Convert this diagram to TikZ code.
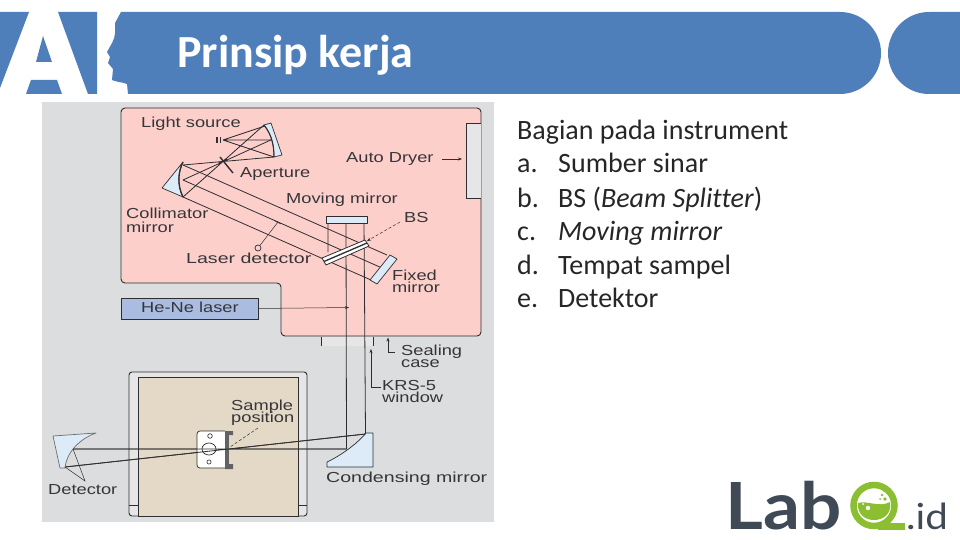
\documentclass[tikz,border=0pt]{standalone}
\usepackage{fontspec}
\setmainfont{Carlito}[Ligatures=NoCommon]
\newfontfamily\lab[FakeStretch=1.26]{Liberation Sans}
\newfontfamily\labw[FakeStretch=1.35]{Liberation Sans}
\newfontfamily\logo[FakeStretch=1.12]{Lato}
\newcommand\fs[1]{\fontsize{#1}{#1}\selectfont}
\definecolor{hdr}{HTML}{4F7FBA}
\definecolor{imgbg}{HTML}{DCDDDF}
\definecolor{pinkbox}{HTML}{FCCFCB}
\definecolor{ink}{HTML}{2E2E30}
\definecolor{labelc}{HTML}{36363A}
\definecolor{glass}{HTML}{DCEBF7}
\definecolor{tan}{HTML}{E4D9C7}
\definecolor{panel}{HTML}{E6E6E6}
\definecolor{laser}{HTML}{AABCE0}
\definecolor{logod}{HTML}{3F4A56}
\definecolor{logog}{HTML}{8CBE32}
\definecolor{bodyt}{HTML}{262626}
\usetikzlibrary{arrows.meta}
\tikzset{
  lbl/.style={anchor=base west,inner sep=0pt,text=labelc,font=\lab\fs{14.5}},
  lblw/.style={anchor=base west,inner sep=0pt,text=labelc,font=\labw\fs{14.5}},
  body/.style={anchor=base west,inner sep=0pt,text=bodyt,font=\fs{28}},
  ray/.style={draw=ink,line width=0.8pt},
  lead/.style={draw=ink,line width=0.5pt},
  tip/.style={-{Stealth[length=4pt,width=3pt]}},
  optic/.style={fill=glass,draw=ink,line width=0.7pt,line join=round},
  edge/.style={draw=ink,line width=1pt,line join=round},
}
\begin{document}
\begin{tikzpicture}[x=1pt,y=-1pt]
\useasboundingbox (0,0) rectangle (960,540);
\fill[white] (0,0) rectangle (960,540);
% header
\fill[hdr] (0,12) -- (29,12) -- (0,88) -- cycle;
\fill[hdr] (58,12) -- (97,12) -- (97,94) -- (88,94) -- cycle;
\fill[hdr] (26,94) -- (31,80) -- (57,80) -- (62,94) -- cycle;
\fill[hdr] (43,36) -- (52,62) -- (36,62) -- cycle;
\fill[hdr] (121,12) -- (840,12) .. controls (862.6,12) and (881,30.4) .. (881,53) .. controls (881,75.6) and (862.6,94) .. (840,94) -- (128,94)
  -- (127,84) .. controls (122,82) and (116,82) .. (112,80) -- (113,69) -- (108,63) -- (110,57) -- (107,52)
  .. controls (110,46) and (115,40) .. (115,33) -- (115,23) -- cycle;
\fill[hdr] (960,12) -- (929,12) .. controls (906.4,12) and (888,30.4) .. (888,53) .. controls (888,75.6) and (906.4,94) .. (929,94) -- (960,94) -- cycle;
\node[anchor=base west,inner sep=0pt,text=white,font=\bfseries\fs{46}] (title) at (177,68) {Prinsip kerja};
% figure background
\fill[imgbg] (42,102) rectangle (494,522);
% pink instrument housing
\path[fill=pinkbox,draw=ink,line width=0.9pt,rounded corners=4pt]
  (121,108) -- (481,108) -- (481,336) -- (281,336) -- (281,283) -- (121,283) -- cycle;
\path[fill=panel,draw=ink,line width=0.8pt] (481,123) -- (466,123) -- (466,198) -- (481,198);
% sealing window
\path[fill=panel] (321,337) rectangle (373,346);
\draw[ray] (321,337) -- (321,346) (373,337) -- (373,346);
% sample compartment
\path[fill=panel,draw=ink,line width=0.9pt,rounded corners=3pt] (129,516) -- (129,372) -- (307,372) -- (307,516) -- cycle;
\path[fill=tan,draw=ink,line width=0.9pt] (138,516) -- (138,377) -- (298,377) -- (298,516) -- cycle;
\draw[ray] (129,505) -- (138,505) (298,505) -- (307,505);
% He-Ne laser
\node[draw=ink,fill=laser,line width=0.8pt,minimum width=137pt,minimum height=21pt,inner sep=0pt] (hene) at (189.5,308.5) {};
\node[lbl] (henet) at (141,312.5) {He-Ne laser};
\coordinate (lasend) at (349,307.5);
\draw[lead,tip] (hene.east) -- (lasend);
% rays, source side
\draw[ray] (223,140) -- (265,126) (223,140) -- (273,140) (223,140) -- (274,157);
\draw[ray] (264,125) -- (183,197) (273,139) -- (183,180) (274,157) -- (183,165);
% parallel beam
\draw[ray] (183,165) -- (387,255) (183,180) -- (382,268) (183,197) -- (371,280);
% interferometer verticals
\draw[ray] (328,222) -- (328,252) (346,222) -- (346.5,449) -- (73,449);
\draw[ray] (364,222) -- (365.5,434) -- (65,467);
% mirrors
\path[optic] (264,125) -- (271,123) -- (282,155) -- (274,157) .. controls (274,146) and (272,135) .. cycle;
\draw[edge] (264,125) .. controls (272,135) and (274,146) .. (274,157);
\path[optic] (183,162) -- (162,188) -- (183,197) .. controls (177,185) and (178,172) .. cycle;
\draw[edge,line width=1.3pt] (183,162) .. controls (178,172) and (177,185) .. (183,197);
\path[optic] (326,216) rectangle (367,223);
\path[optic] (390,255) -- (397,259) -- (377,284) -- (370,280) -- cycle;
% beam splitter
\path[fill=white,draw=ink,line width=0.8pt,line join=round] (322,258) -- (326,265) -- (369,246) -- (365,240) -- cycle;
\draw[ink,line width=1.3pt] (324,261.5) -- (367,243);
% light source and aperture
\draw[ink,line width=1.2pt] (217,137) -- (217,143) (220.5,137) -- (220.5,143);
\draw[ink,line width=1.4pt] (220,157) -- (233,173);
\draw[ink,line width=1.2pt] (219,163) -- (227,159);
% laser detector
\node[circle,draw=ink,line width=0.7pt,minimum size=6pt,inner sep=0pt] (ldet) at (258,248) {};
\coordinate (ldtop) at (278,222);
\draw[lead] (ldet) -- (ldtop) (275,221) -- (281,224);
% condensing mirror
\path[optic] (366,433) -- (373,433) -- (373,467) -- (327,467) -- (327,462) .. controls (340,456) and (357,444) .. cycle;
% detector
\path[optic,draw=ink!70] (53,436) -- (96,433) .. controls (82,438) and (67,450) .. (65,468) -- (60,468) -- cycle;
\draw[lead] (73,449) -- (85,481) -- (65,467);
% sample holder
\path[fill=white,draw=ink,line width=0.7pt,rounded corners=3pt] (225,431) -- (197,431) -- (197,468) -- (225,468);
\fill[ink!75] (225,431) rectangle (229,468);
\fill[ink!75] (225,431) rectangle (233,435) (225,464) rectangle (233,469);
\draw[ink,line width=0.6pt] (210,436) circle[radius=2.3] (209,462) circle[radius=2.1];
\draw[ink,line width=0.7pt] (209,449) ellipse[x radius=7,y radius=6];
\coordinate (spa) at (258,428);
\coordinate (spb) at (230,447);
\draw[lead,densely dashed] (spa) -- (spb);
% redraw rays over holder
\draw[ray] (73,449) -- (346.5,449) (65,467) -- (365.5,434);
% labels
\node[lbl] (l1) at (141,128) {Light source};
\node[lbl] (l2) at (240,178) {Aperture};
\node[lbl] (l3) at (346,163) {Auto Dryer};
\node[lbl] (l4) at (286,203) {Moving mirror};
\node[lbl] (l5) at (126,218) {Collimator};
\node[lbl] (l6) at (126,232) {mirror};
\node[lblw] (l7) at (186,263) {Laser detector};
\node[lbl] (l8) at (404,222) {BS};
\node[lbl] (l9) at (392,280) {Fixed};
\node[lbl] (l10) at (392,292) {mirror};
\node[lbl] (l11) at (401,355) {Sealing};
\node[lbl] (l12) at (401,367) {case};
\node[lbl] (l13) at (382,390) {KRS-5};
\node[lbl] (l14) at (382,402) {window};
\node[lbl] (l15) at (231,410) {Sample};
\node[lbl] (l16) at (231,422) {position};
\node[lbl] (l17) at (48,494) {Detector};
\node[lblw] (l18) at (326,482) {Condensing mirror};
% leaders
\coordinate (a1) at (442,159); \coordinate (a2) at (462,159);
\draw[lead,tip] (a1) -- (a2);
\coordinate (b1) at (400,222); \coordinate (b2) at (367,241);
\draw[lead,tip,densely dashed] (b1) -- (b2);
\coordinate (s1) at (395,352); \coordinate (s2) at (388,337.5);
\draw[lead,tip] (s1) -| (s2);
\coordinate (k1) at (381,387); \coordinate (k2) at (371,349);
\draw[lead,tip] (k1) -| (k2);
% right-hand text
\node[body] (t0) at (517,139.5) {Bagian pada instrument};
\node[body] (t1a) at (517,173) {a.}; \node[body] (t1) at (558,173) {Sumber sinar};
\node[body] (t2a) at (517,207) {b.}; \node[body] (t2) at (558,207) {BS (\textit{Beam Splitter})};
\node[body] (t3a) at (517,240) {c.}; \node[body] (t3) at (558,240) {\textit{Moving mirror}};
\node[body] (t4a) at (517,274) {d.}; \node[body] (t4) at (558,274) {Tempat sampel};
\node[body] (t5a) at (517,307) {e.}; \node[body] (t5) at (558,307) {Detektor};
% logo
\node[anchor=base west,inner sep=0pt,text=logod,font=\logo\bfseries\fs{65}] (lb) at (725,529) {Lab};
\draw[logog,line width=6.5pt] (874,505.5) circle[radius=20.5];
\fill[logog] (878,522.5) rectangle (905,529.5);
\fill[logog] (858,503) .. controls (867,500) and (879,508) .. (890,502) .. controls (892,514) and (883,520) .. (874,520) .. controls (865,520) and (857,514) .. (858,503) -- cycle;
\fill[white] (868,508) circle[radius=2.2] (863,504) circle[radius=1];
\fill[logog] (882,495) circle[radius=1.3] (880,499) circle[radius=1] (885,499) circle[radius=1.8] (884,491) circle[radius=1];
\node[anchor=base west,inner sep=0pt,text=logod,font=\logo\fs{36}] (idt) at (906,529) {.id};
\end{tikzpicture}
\end{document}
